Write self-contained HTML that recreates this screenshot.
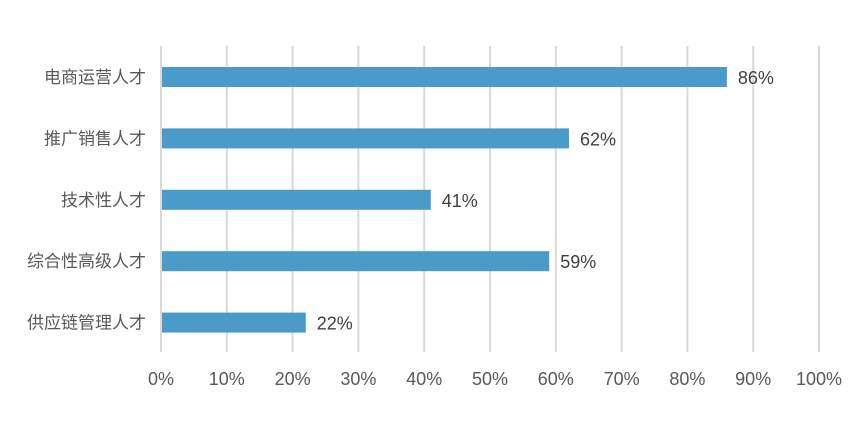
<!DOCTYPE html>
<html><head><meta charset="utf-8"><style>
body{margin:0;background:#fff;}
svg text{font-family:"Liberation Sans","Noto Sans CJK SC",sans-serif;}
</style></head><body>
<svg id="chart" width="865" height="422" xmlns="http://www.w3.org/2000/svg">
<rect width="865" height="422" fill="#fff"/>
<g id="grid"></g><g id="bars"></g><g id="labels"></g>
</svg>
<script>
const categories=["电商运营人才","推广销售人才","技术性人才","综合性高级人才","供应链管理人才"];
const values=[86,62,41,59,22];
const tickValues=[0,10,20,30,40,50,60,70,80,90,100];
const tickLabels=["0%","10%","20%","30%","40%","50%","60%","70%","80%","90%","100%"];
const NS="http://www.w3.org/2000/svg";
const x0=161,x1=819,plotTop=46,step=61.4,firstC=77,barH=20;
const xs=v=>x0+(x1-x0)*v/100;
const yc=i=>firstC+i*step;
function mk(t,a,p){const e=document.createElementNS(NS,t);for(const k in a)e.setAttribute(k,a[k]);p.appendChild(e);return e;}
const grid=document.getElementById('grid'),bars=document.getElementById('bars'),labels=document.getElementById('labels');
tickValues.forEach((v,i)=>{
  const l=mk('line',{x1:xs(v),x2:xs(v),y1:plotTop,y2:352,stroke:'#d9d9d9','stroke-width':2},grid);
  
  
  const t=mk('text',{x:xs(v),y:385,'text-anchor':'middle','font-size':18,fill:'#595959'},labels);
  t.textContent=tickLabels[i];
  
  
});
categories.forEach((c,i)=>{
  const r=mk('rect',{x:x0+1,y:yc(i)-barH/2,width:xs(values[i])-x0-1,height:barH,fill:'#4a9bca'},bars);
  
  
  const t=mk('text',{x:146,y:yc(i)+6,'text-anchor':'end','font-size':17,fill:'#595959'},labels);
  t.textContent=c;
  
  
  const v=mk('text',{x:xs(values[i])+11,y:yc(i)+7,'font-size':18,fill:'#404040'},labels);
  v.textContent=values[i]+'%';
  
  
});
</script>
</body></html>
